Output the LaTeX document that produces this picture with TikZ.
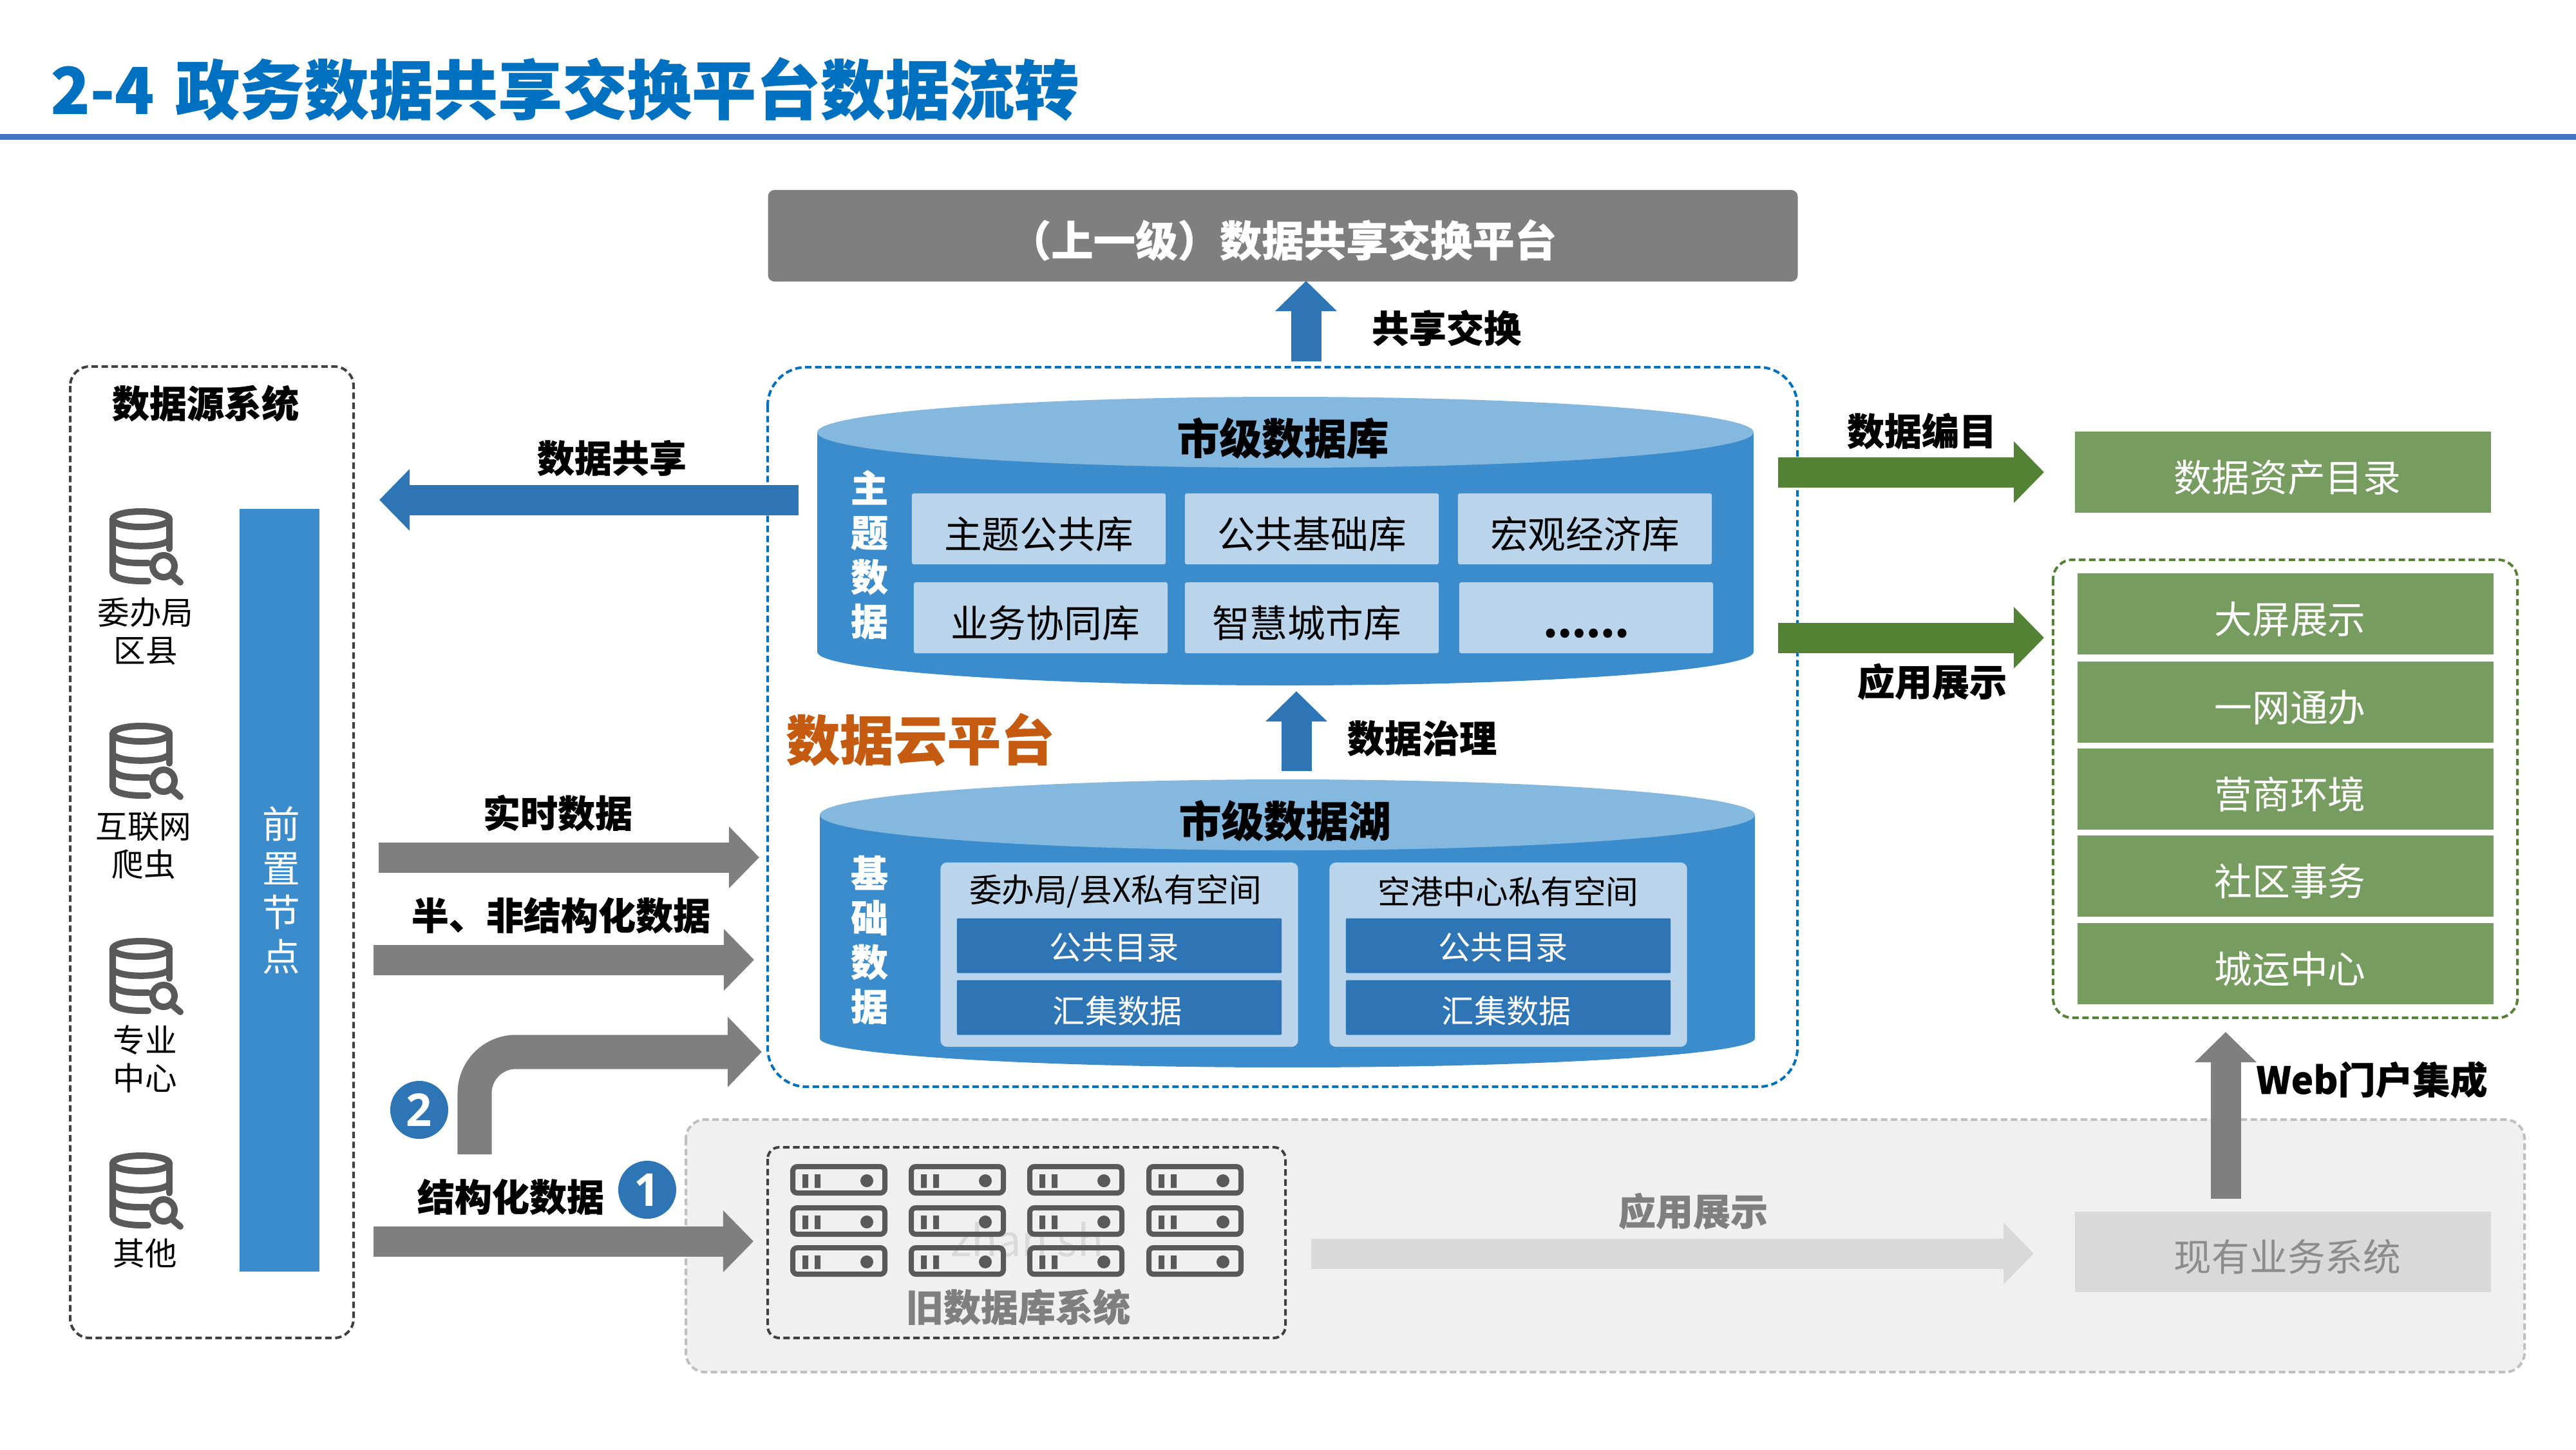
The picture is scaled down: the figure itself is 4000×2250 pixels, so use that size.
\documentclass[tikz,border=0pt]{standalone}
\usepackage{fontspec}
\setmainfont{Noto Sans CJK SC}[BoldFeatures={FakeBold=0.5}]
\newfontfamily\numfont{Open Sans}
\usetikzlibrary{arrows.meta}
\definecolor{myblue}{HTML}{0070C0}
\definecolor{myrule}{HTML}{4472C4}
\definecolor{mybar}{HTML}{2E75B6}
\definecolor{mydrum}{HTML}{3A8CCD}
\definecolor{mydrumtop}{HTML}{85B8DF}
\definecolor{mylib}{HTML}{BAD4EC}
\definecolor{mygreen}{HTML}{548235}
\definecolor{mylgreen}{HTML}{779C5F}
\definecolor{mygray}{HTML}{7F7F7F}
\definecolor{myicon}{HTML}{595959}
\definecolor{mylgray}{HTML}{D9D9D9}
\definecolor{mybg}{HTML}{F0F0F0}
\definecolor{mydash}{HTML}{BFBFBF}
\definecolor{myorange}{HTML}{C55A11}
\newcommand{\fsz}[2]{\fontsize{#1}{#2}\selectfont}
\tikzset{
  boldtxt/.style   = {inner sep=0pt,font=\bfseries\fsz{16.5}{19.6},align=center},
  plaintxt/.style  = {inner sep=0pt,font=\fsz{16.7}{19.6},align=center},
  srctxt/.style    = {inner sep=0pt,font=\fsz{14.1}{16.8},align=center},
  sunktxt/.style   = {text height=.66cm,text depth=.06cm},
  flow/.style      = {line width=.47cm,-{Triangle[length=.47cm,width=.93cm]}},
  dashbox/.style   = {line width=.04cm,dash pattern=on .1cm off .055cm,rounded corners=.3cm},
  libbox/.style    = {fill=mylib,plaintxt,sunktxt,minimum width=3.94cm,minimum height=1.10cm,rounded corners=.03cm},
  panelbox/.style  = {fill=mylib,minimum width=5.55cm,minimum height=2.86cm,rounded corners=.1cm},
  innerbox/.style  = {fill=mybar,text=white,inner sep=0pt,font=\fsz{14.3}{16},minimum width=5.04cm,minimum height=.85cm,rounded corners=.02cm},
  greenbox/.style  = {fill=mylgreen,text=white,plaintxt,sunktxt,minimum width=6.46cm,minimum height=1.25cm},
  numdot/.style    = {circle,fill=mybar,text=white,inner sep=0pt,minimum size=.9cm,font=\numfont\bfseries\fsz{20}{20}},
  iconline/.style  = {draw=myicon,line width=.1cm,line cap=round},
  pics/dbicon/.style = {code={
    \draw[iconline] (49,16) ellipse [x radius=44,y radius=12];
    \draw[iconline] (93,16) -- (93,62);
    \draw[iconline] (5,16) -- (5,98) .. controls (5,108) and (30,113) .. (60,112);
    \draw[iconline] (5,48) .. controls (15,61) and (83,61) .. (93,48);
    \draw[iconline] (5,72) .. controls (12,85) and (40,84) .. (60,84);
    \draw[iconline] (84,89) circle [radius=17];
    \draw[iconline] (96,102) -- (110,114);
  }},
  pics/srvicon/.style = {code={
    \draw[iconline,line width=.08cm,line cap=butt,rounded corners=.07cm] (3,3) rectangle (146,44);
    \fill[myicon] (18,15) rectangle (27,36) (37,15) rectangle (46,36);
    \fill[myicon] (118,25) circle [radius=10];
  }},
}

\begin{document}
\begin{tikzpicture}[x=.01cm,y=-.01cm]
  \useasboundingbox (0,0) rectangle (4000,2250);

  % title
  \node[inner sep=0pt,anchor=west,text=myblue,font=\bfseries\fsz{28.5}{30}] (title) at (78,138) {2-4\hspace{.1cm} 政务数据共享交换平台数据流转};
  \fill[myrule] (0,208) rectangle (4000,217);

  % frames
  \draw[dashbox,draw=black!75] (109,569) rectangle (549,2077);
  \draw[dashbox,draw=myblue,rounded corners=.6cm] (1192,570) rectangle (2791,1687);
  \draw[dashbox,draw=mygreen] (3188,869) rectangle (3909,1580);
  \draw[dashbox,draw=mydash,fill=mybg] (1065,1738) rectangle (3920,2130);
  \draw[dashbox,draw=black!75,rounded corners=.18cm] (1192,1781) rectangle (1996,2077);

  % sources
  \node[boldtxt] (srctitle) at (319,626) {数据源系统};
  \foreach \y in {790,1123,1457,1790}
    \pic at (170,\y) {dbicon};
  \node[srctxt] (src1) at (226,980)  {委办局\\区县};
  \node[srctxt] (src2) at (223,1313) {互联网\\爬虫};
  \node[srctxt] (src3) at (225,1644) {专业\\中心};
  \node[srctxt] (src4) at (225,1946) {其他};
  \node[fill=mydrum,text=white,plaintxt,minimum width=1.24cm,minimum height=11.84cm] (front) at (434,1382) {\kern.06cm 前\\\kern.06cm 置\\\kern.06cm 节\\\kern.06cm 点};

  % upper platform
  \node[fill=mygray,text=white,boldtxt,font=\bfseries\fsz{18.6}{20},text height=.7cm,text depth=.06cm,minimum width=15.98cm,minimum height=1.42cm,rounded corners=.1cm] (upper) at (1992,366) {（上一级）数据共享交换平台};

  % city database
  \fill[mydrum] (1269,671) rectangle (2723,1012);
  \fill[mydrum] (1996,1012) ellipse [x radius=727,y radius=52];
  \fill[mydrumtop] (1996,671) ellipse [x radius=727,y radius=55];
  \node[boldtxt,font=\bfseries\fsz{18.7}{20}] (dbname) at (1992,680) {市级数据库};
  \node[boldtxt,text=white] (dbside) at (1350,861) {主\\题\\数\\据};
  \node[libbox] (lib1) at (1613,821) {主题公共库};
  \node[libbox] (lib2) at (2037,821) {公共基础库};
  \node[libbox] (lib3) at (2461,821) {宏观经济库};
  \node[libbox] (lib4) at (1616,959) {\kern.14cm 业务协同库};
  \node[libbox] (lib5) at (2037,959) {智慧城市库\kern.16cm};
  \node[libbox,font=\bfseries\fsz{18}{20}] (lib6) at (2463,959) {......};

  % city lake
  \fill[mydrum] (1273,1265) rectangle (2725,1612);
  \fill[mydrum] (1999,1612) ellipse [x radius=726,y radius=45];
  \fill[mydrumtop] (1999,1265) ellipse [x radius=726,y radius=55];
  \node[boldtxt,font=\bfseries\fsz{18.7}{20}] (lakename) at (1995,1274) {市级数据湖};
  \node[boldtxt,text=white] (lakeside) at (1350,1459) {基\\础\\数\\据};
  \node[panelbox] (pan1) at (1738,1482) {};
  \node[panelbox] (pan2) at (2342,1482) {};
  \node[srctxt,font=\fsz{14.4}{16}] (pan1t) at (1732,1384) {委办局/县X私有空间};
  \node[srctxt,font=\fsz{14.4}{16}] (pan2t) at (2342,1384) {空港中心私有空间};
  \node[innerbox,text height=.48cm,text depth=.06cm] (cat1) at (1738,1468) {公共目录\kern.16cm};
  \node[innerbox,text height=.54cm,text depth=.06cm] (sum1) at (1738,1564) {汇集数据\kern.05cm};
  \node[innerbox,text height=.48cm,text depth=.06cm] (cat2) at (2342,1468) {公共目录\kern.16cm};
  \node[innerbox,text height=.54cm,text depth=.06cm] (sum2) at (2342,1564) {汇集数据\kern.05cm};
  \node[boldtxt,text=myorange,font=\bfseries\fsz{23.7}{25}] (cloud) at (1429,1148) {数据云平台};

  % old systems
  \node[inner sep=0pt,text=mylgray,font=\fsz{19}{20}] (mark) at (1595,1924) {zhan sh};
  \foreach \x in {1228,1412,1596,1781}
    \foreach \y in {1808,1872,1934}
      \pic at (\x,\y) {srvicon};
  \node[boldtxt,text=mygray] (oldname) at (1581,2029) {旧数据库系统};
  \node[fill=mylgray,text=black!45,plaintxt,sunktxt,minimum width=6.45cm,minimum height=1.25cm] (legacy) at (3545,1943) {\kern.14cm 现有业务系统};

  % right column
  \node[greenbox] (asset) at (3545,733) {\kern.14cm 数据资产目录};
  \node[greenbox] (app1) at (3549,953)  {\kern.14cm 大屏展示};
  \node[greenbox] (app2) at (3549,1090) {\kern.14cm 一网通办};
  \node[greenbox] (app3) at (3549,1225) {\kern.14cm 营商环境};
  \node[greenbox] (app4) at (3549,1360) {\kern.14cm 社区事务};
  \node[greenbox] (app5) at (3549,1496) {\kern.14cm 城运中心};

  \coordinate (shareS)  at (1240,776);  \coordinate (shareE)  at (589,776);
  \coordinate (upS)     at (2028,561);  \coordinate (upE)     at (2028,436);
  \coordinate (govS)    at (2013,1197); \coordinate (govE)    at (2013,1073);
  \coordinate (realS)   at (588,1331);  \coordinate (realE)   at (1179,1331);
  \coordinate (semiS)   at (580,1490);  \coordinate (semiE)   at (1171,1490);
  \coordinate (bendS)   at (737,1792);  \coordinate (bendE)   at (1183,1633);
  \coordinate (structS) at (580,1927);  \coordinate (structE) at (1170,1927);
  \coordinate (oldS)    at (2036,1946); \coordinate (oldE)    at (3158,1946);
  \coordinate (webS)    at (3456,1861); \coordinate (webE)    at (3456,1602);
  \coordinate (catS)    at (2761,733);  \coordinate (catE)    at (3174,733);
  \coordinate (showS)   at (2761,990);  \coordinate (showE)   at (3174,990);

  \draw[flow,mybar]    (shareS) -- (shareE);
  \draw[flow,mybar]    (upS) -- (upE);
  \draw[flow,mybar]    (govS) -- (govE);
  \draw[flow,mygray]   (realS) -- (realE);
  \draw[flow,mygray]   (semiS) -- (semiE);
  \draw[mygray,line width=.53cm,rounded corners=.64cm,-{Triangle[length=.53cm,width=1.06cm]}] (bendS) |- (bendE);
  \draw[flow,mygray]   (structS) -- (structE);
  \draw[flow,mylgray]  (oldS) -- (oldE);
  \draw[flow,mygray]   (webS) -- (webE);
  \draw[flow,mygreen]  (catS) -- (catE);
  \draw[flow,mygreen]  (showS) -- (showE);

  % arrow labels
  \node[boldtxt] (l1)  at (2246,509)  {共享交换};
  \node[boldtxt] (l2)  at (950,711)   {数据共享};
  \node[boldtxt] (l3)  at (2208,1146) {数据治理};
  \node[boldtxt] (l4)  at (866,1262)  {实时数据};
  \node[boldtxt] (l5)  at (871,1421)  {半、非结构化数据};
  \node[boldtxt] (l6)  at (793,1858)  {结构化数据};
  \node[boldtxt] (l7)  at (2984,669)  {数据编目};
  \node[boldtxt] (l8)  at (3000,1058) {应用展示};
  \node[boldtxt] (l9)  at (3683,1676) {Web门户集成};
  \node[boldtxt,text=mygray] (l10) at (2629,1880) {应用展示};
  \node[numdot] (n2) at (651,1723) {2};
  \node[numdot] (n1) at (1005,1847) {1};
\end{tikzpicture}
\end{document}
